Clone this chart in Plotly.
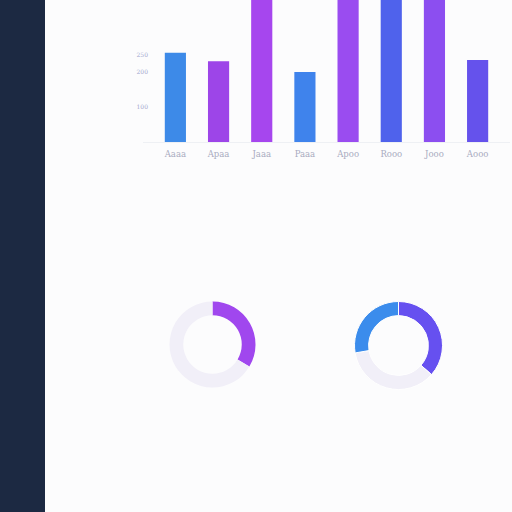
import plotly.graph_objects as go

W = H = 512

categories = ["Aaaa", "Apaa", "Jaaa", "Paaa", "Apoo", "Rooo", "Jooo", "Aooo"]
bar_values = [255, 231, 470, 200, 480, 460, 475, 234]
bar_colors = ["#3d8ae8", "#9d45e8", "#a646ee", "#3f83ec", "#9a4cf0", "#4f62ec", "#8c4ef0", "#6552ec"]
tick_vals = [100, 200, 250, 400]
tick_text = ["100", "200", "250", "400"]

donut1_labels = ["Filled", "Rest"]
donut1_values = [33.6, 66.4]
donut1_colors = ["#a047ee", "#f1eff8"]

donut2_labels = ["Purple", "Rest", "Blue"]
donut2_values = [36.5, 35.8, 27.7]
donut2_colors = ["#6650f0", "#f1eff8", "#3b8cec"]

def px_x(p):
    return p / W

def px_y(p):
    return 1 - p / H

fig = go.Figure()

fig.add_trace(go.Bar(
    x=list(range(len(categories))), y=bar_values,
    marker=dict(color=bar_colors, line=dict(width=0)),
    width=0.49, xaxis="x", yaxis="y", showlegend=False,
))

fig.add_trace(go.Pie(
    labels=donut1_labels, values=donut1_values, sort=False, direction="clockwise",
    hole=0.68, marker=dict(colors=donut1_colors, line=dict(color="#ffffff", width=0)),
    textinfo="none", hoverinfo="skip", showlegend=False,
    domain=dict(x=[px_x(169.5), px_x(255.5)], y=[px_y(387.5), px_y(301.5)]),
))

fig.add_trace(go.Pie(
    labels=donut2_labels, values=donut2_values, sort=False, direction="clockwise",
    hole=0.68, marker=dict(colors=donut2_colors, line=dict(color="#ffffff", width=1)),
    textinfo="none", hoverinfo="skip", showlegend=False,
    domain=dict(x=[px_x(354.5), px_x(442.5)], y=[px_y(389.5), px_y(301.5)]),
))

fig.update_layout(
    width=W, height=H,
    margin=dict(l=0, r=0, t=0, b=0),
    paper_bgcolor="#fcfcfd", plot_bgcolor="rgba(0,0,0,0)",
    font=dict(family="DejaVu Serif", color="#a3a6bd"),
    bargap=0.5,
    xaxis=dict(
        domain=[px_x(143), px_x(510)], range=[-0.75, 7.75],
        tickvals=list(range(len(categories))), ticktext=categories,
        tickfont=dict(size=8.5, color="#a8abc0", family="DejaVu Serif"),
        showgrid=False, zeroline=False, showline=True, linecolor="#eef0f4", linewidth=1,
        ticks="", ticklabelstandoff=4, fixedrange=True,
    ),
    yaxis=dict(
        domain=[px_y(142), 1.0], range=[0, 142 / 0.35],
        tickvals=tick_vals, ticktext=tick_text,
        tickfont=dict(size=6, color="#a5a9cf"),
        showgrid=False, zeroline=False, showline=False, ticks="",
        ticklabelstandoff=-6, fixedrange=True,
    ),
    shapes=[dict(
        type="rect", xref="paper", yref="paper",
        x0=0, x1=px_x(45), y0=0, y1=1,
        fillcolor="#1c2942", line=dict(width=0), layer="below",
    )],
)

fig.write_html(
    "out.html",
    config={"displayModeBar": False},
    post_script="document.body.style.margin='0';document.body.style.overflow='hidden';",
)
